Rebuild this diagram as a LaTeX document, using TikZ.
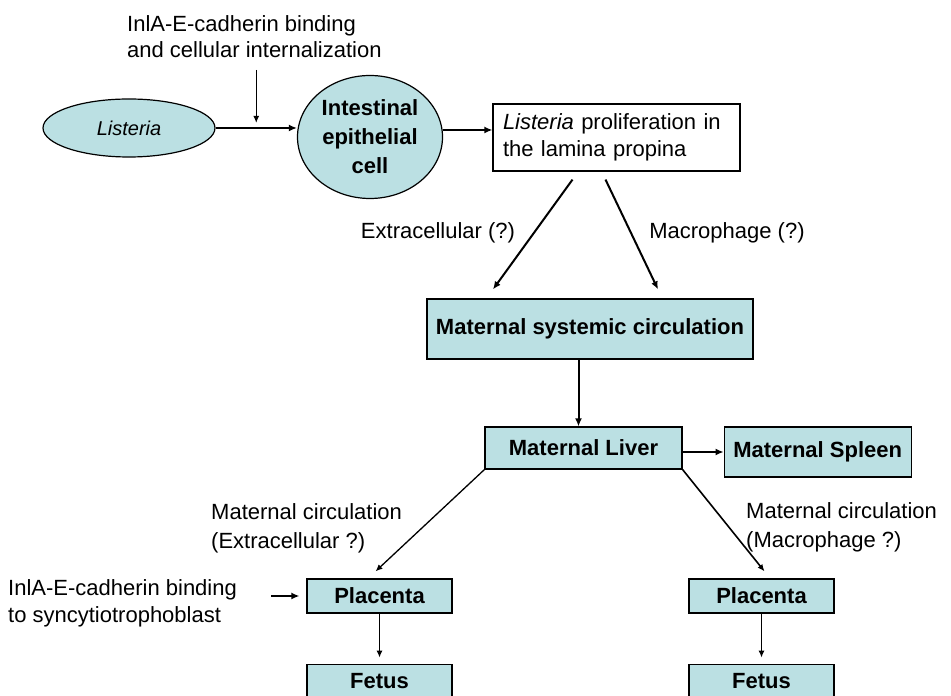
\documentclass[tikz,border=0pt]{standalone}
\usepackage{fontspec}
\setmainfont{Liberation Sans}
\usetikzlibrary{arrows.meta,positioning,shapes.geometric,calc}
\definecolor{tissue}{RGB}{187,224,227}

\begin{document}
\begin{tikzpicture}[
  x=1pt, y=1pt,
  font=\fontsize{22}{26}\selectfont,
  >=Latex,
  arrow/.style={-{Latex[length=8pt,width=7pt]}, line width=2pt, draw=black},
  thinarrow/.style={-{Latex[length=7pt,width=6pt]}, line width=1.3pt, draw=black},
  organ/.style={draw=black, line width=1.2pt, fill=tissue,
    font=\fontsize{22}{26}\selectfont\bfseries,
    minimum width=145pt, minimum height=34pt, inner sep=0pt, align=center},
  microbe/.style={ellipse, draw=black, line width=1.2pt, fill=tissue, inner sep=0pt},
  note/.style={align=left, inner sep=0pt}
]
\useasboundingbox (0,0) rectangle (951,696);

\node[microbe, minimum width=172pt, minimum height=58pt,
  font=\fontsize{20}{24}\selectfont\itshape] (listeria) at (129,568) {Listeria};
\node[microbe, minimum width=145pt, minimum height=123pt, align=center,
  font=\fontsize{22}{29}\selectfont\bfseries] (cell) at (370,559) {Intestinal\\epithelial\\cell};
\node[draw=black, line width=1.2pt, minimum width=247pt, minimum height=67pt,
  text width=227pt, align=left, inner sep=0pt,
  font=\fontsize{22}{27}\selectfont] (prolif) at (616.5,558.5) {\textit{Listeria} proliferation in\\the lamina propina};
\node[note, anchor=west] (inlA) at (127,659) {InlA-E-cadherin binding\\and cellular internalization};

\node[organ, minimum width=326pt, minimum height=60pt] (systemic) at (590,367) {Maternal systemic circulation};
\node[note] (extra) at (438,463) {Extracellular (?)};
\node[note] (macro) at (727,463) {Macrophage (?)};

\node[organ, minimum width=197pt, minimum height=42pt] (liver) at (583.5,248) {Maternal Liver};
\node[organ, minimum width=187pt, minimum height=50pt,
  right=41pt of liver.north east, anchor=north west] (spleen) {Maternal Spleen};

\node[organ] (placL) at (379.5,100) {Placenta};
\node[organ] (placR) at (761.5,100) {Placenta};
\node[organ, below=50pt of placL] (fetusL) {Fetus};
\node[organ, below=50pt of placR] (fetusR) {Fetus};
\node[note, anchor=west, font=\fontsize{22}{29}\selectfont] (circL) at (211,168) {Maternal circulation\\(Extracellular ?)};
\node[note, anchor=west, font=\fontsize{22}{29}\selectfont] (circR) at (746,169) {Maternal circulation\\(Macrophage ?)};
\node[note, anchor=west, font=\fontsize{22}{27}\selectfont] (inlB) at (8,93) {InlA-E-cadherin binding\\to syncytiotrophoblast};

% entry into the epithelium
\draw[arrow] (listeria.east) -- (listeria.east -| cell.west);
\coordinate (entry) at ($(listeria.east)!0.5!(listeria.east -| cell.west)$);
\draw[thinarrow] ([yshift=58pt]entry) -- ([yshift=5pt]entry);
\draw[arrow] ([yshift=7pt]cell.east) -- ([yshift=7pt]cell.east -| prolif.west);

% spread to the mother
\draw[arrow] ([xshift=-44pt,yshift=-8pt]prolif.south) -- ([xshift=-97pt,yshift=9pt]systemic.north);
\draw[arrow] ([xshift=-11pt,yshift=-8pt]prolif.south) -- ([xshift=68pt,yshift=9pt]systemic.north);
\draw[arrow] ([xshift=-5pt]liver.north |- systemic.south) -- ([xshift=-5pt]liver.north);
\draw[arrow] (liver.east |- spleen.west) -- (spleen.west);

% crossing the placenta
\draw[thinarrow] (liver.south west) -- ([xshift=-4pt,yshift=7pt]placL.north);
\draw[thinarrow, line width=1.6pt] (liver.south east) -- ([xshift=3pt,yshift=7pt]placR.north);
\draw[arrow] ([xshift=-35pt]placL.west) -- ([xshift=-7pt]placL.west);
\draw[thinarrow] (placL.south) -- ([yshift=6pt]fetusL.north);
\draw[thinarrow] (placR.south) -- ([yshift=6pt]fetusR.north);

\end{tikzpicture}
\end{document}
